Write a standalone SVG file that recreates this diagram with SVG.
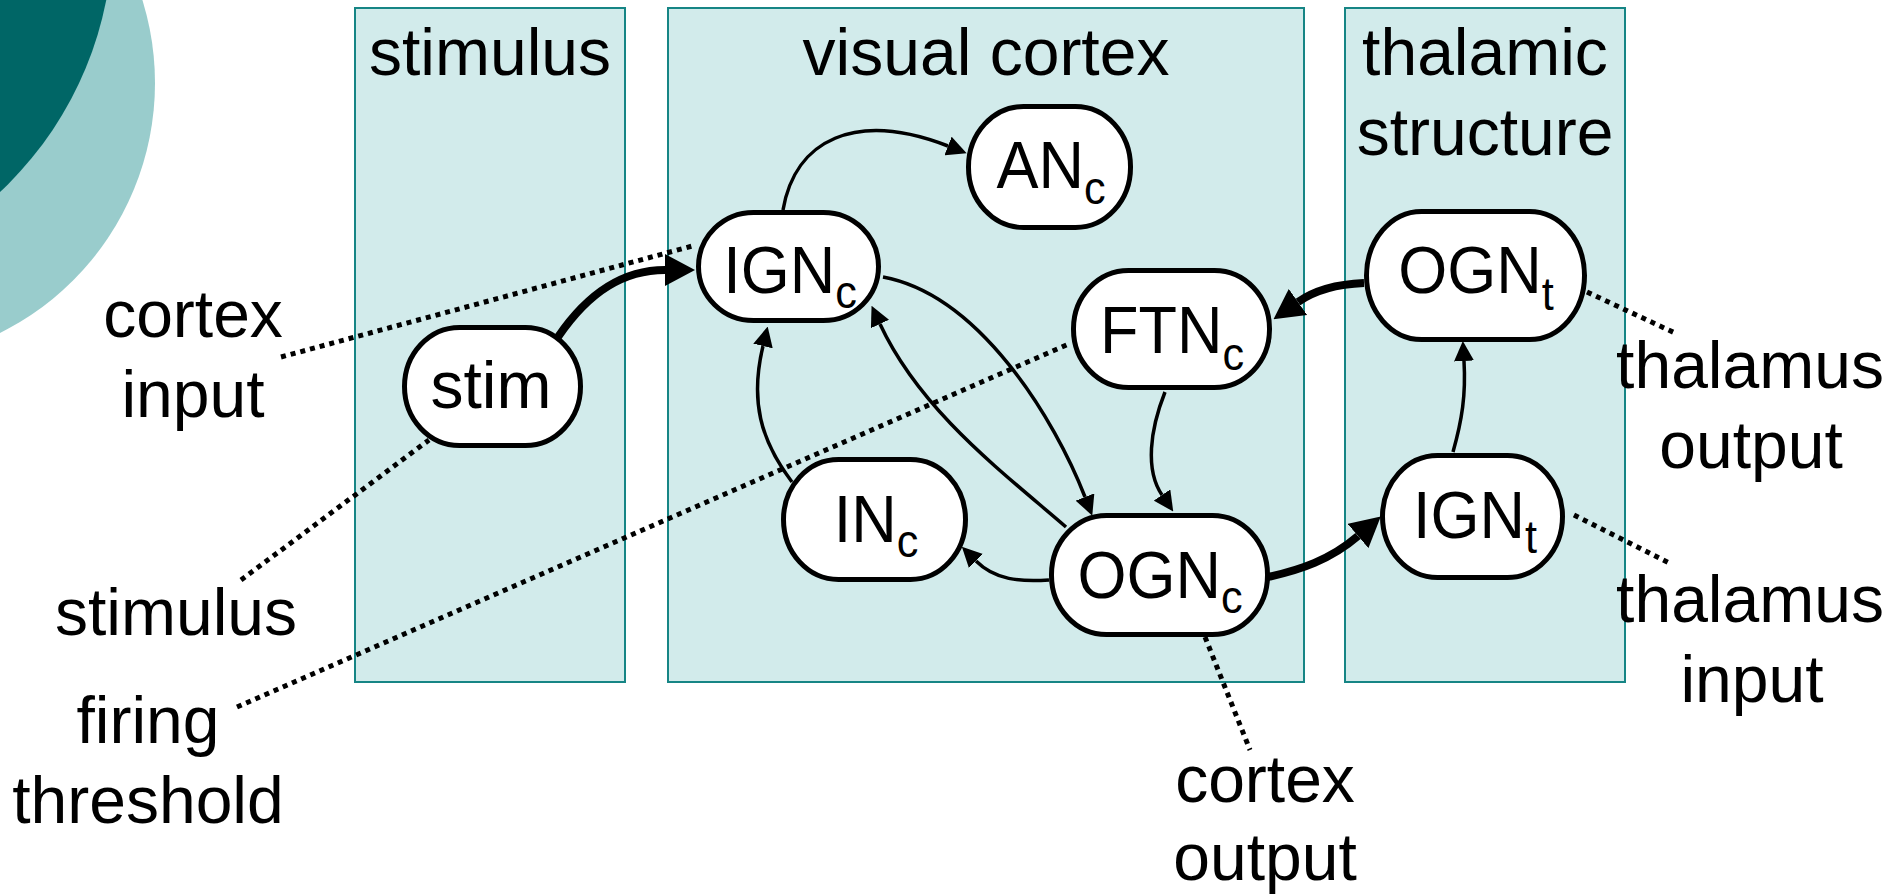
<svg xmlns="http://www.w3.org/2000/svg" width="1890" height="895" viewBox="0 0 1890 895">
<style>
.panel{fill:#D2EBEB;stroke:#168585;stroke-width:2}
.node rect{fill:#fff;stroke:#000;stroke-width:5}
text{font-family:"Liberation Sans",Arial,sans-serif;fill:#000}
.lbl{font-size:66px;text-anchor:middle}
.nt{font-size:67px;text-anchor:middle}
.sub{font-size:46px}
.thin{fill:none;stroke:#000;stroke-width:3.5;marker-end:url(#ah)}
.thick{fill:none;stroke:#000;stroke-width:8;marker-end:url(#ahb)}
.dot{fill:none;stroke:#000;stroke-width:5;stroke-dasharray:5 5}
</style>
<defs>
<marker id="ah" markerUnits="userSpaceOnUse" viewBox="0 0 20 20" refX="0" refY="10" markerWidth="20" markerHeight="20" orient="auto"><path d="M0,0 L20,10 L0,20 z" fill="#000"/></marker>
<marker id="ahb" markerUnits="userSpaceOnUse" viewBox="0 0 30 32" refX="0" refY="16" markerWidth="30" markerHeight="32" orient="auto"><path d="M0,0 L30,16 L0,32 z" fill="#000"/></marker>
</defs>
<rect width="1890" height="895" fill="#fff"/>
<g id="decor">
<circle cx="-124" cy="83" r="279" fill="#99CCCC"/>
<circle cx="-245" cy="-69" r="358" fill="#006666"/>
</g>
<g id="panels">
<g id="panel-stimulus"><rect class="panel" x="355" y="8" width="270" height="674"/><text class="lbl" x="490" y="75">stimulus</text></g>
<g id="panel-cortex"><rect class="panel" x="668" y="8" width="636" height="674"/><text class="lbl" x="986" y="75">visual cortex</text></g>
<g id="panel-thalamic"><rect class="panel" x="1345" y="8" width="280" height="674"/><text class="lbl" x="1485" y="75">thalamic</text><text class="lbl" x="1485" y="155">structure</text></g>
</g>
<g id="labels">
<text class="lbl" x="193" y="337">cortex</text><text class="lbl" x="193" y="417">input</text>
<text class="lbl" x="176" y="635">stimulus</text>
<text class="lbl" x="148" y="743">firing</text><text class="lbl" x="148" y="823">threshold</text>
<text class="lbl" x="1265" y="802">cortex</text><text class="lbl" x="1265" y="880">output</text>
<text class="lbl" x="1750" y="388">thalamus</text><text class="lbl" x="1751" y="468">output</text>
<text class="lbl" x="1750" y="622">thalamus</text><text class="lbl" x="1752" y="702">input</text>
</g>
<g id="connectors">
<line class="dot" x1="281" y1="357" x2="696" y2="245"/>
<line class="dot" x1="241" y1="580" x2="429" y2="440"/>
<line class="dot" x1="237" y1="707" x2="1071" y2="343"/>
<line class="dot" x1="1205" y1="637" x2="1250" y2="750"/>
<line class="dot" x1="1587" y1="292" x2="1675" y2="333"/>
<line class="dot" x1="1574" y1="515" x2="1669" y2="563"/>
<path class="thick" d="M558,337 C590,290 625,270 665,270"/>
<path class="thin" d="M783,210 C795,140 855,110 948,146"/>
<path class="thin" d="M883,277 C980,295 1055,420 1085,497"/>
<path class="thin" d="M1066,527 C1000,470 920,410 880,324"/>
<path class="thin" d="M792,482 C760,440 750,400 763,346"/>
<path class="thin" d="M1165,392 C1150,430 1145,470 1162,495"/>
<path class="thin" d="M1049,580 C1020,582 995,580 976,561"/>
<path class="thick" d="M1268,577 C1300,570 1330,560 1358,536"/>
<path class="thin" d="M1453,452 C1462,420 1466,395 1464,361"/>
<path class="thick" d="M1364,283 C1340,284 1315,290 1298,302"/>
</g>
<g id="node-stim" class="node"><rect x="404.5" y="327.5" width="176" height="118" rx="55" ry="59"/><text class="lbl" x="491" y="408">stim</text></g>
<g id="node-IGNc" class="node"><rect x="698.5" y="212.5" width="180" height="108" rx="55" ry="54"/><text class="nt" transform="translate(790,0) scale(0.94,1)" x="0" y="293">IGN<tspan class="sub" dy="15">c</tspan></text></g>
<g id="node-ANc" class="node"><rect x="968.5" y="106.5" width="162" height="121" rx="55" ry="60"/><text class="nt" transform="translate(1051,0) scale(0.94,1)" x="0" y="188">AN<tspan class="sub" dy="16">c</tspan></text></g>
<g id="node-FTNc" class="node"><rect x="1073.5" y="270.5" width="196" height="117" rx="55" ry="58"/><text class="nt" transform="translate(1172,0) scale(0.94,1)" x="0" y="353">FTN<tspan class="sub" dy="17">c</tspan></text></g>
<g id="node-INc" class="node"><rect x="783.5" y="459.5" width="182" height="120" rx="55" ry="60"/><text class="nt" transform="translate(876,0) scale(0.94,1)" x="0" y="542">IN<tspan class="sub" dy="15">c</tspan></text></g>
<g id="node-OGNc" class="node"><rect x="1051.5" y="515.5" width="216" height="119" rx="55" ry="59"/><text class="nt" transform="translate(1160,0) scale(0.94,1)" x="0" y="598">OGN<tspan class="sub" dy="15">c</tspan></text></g>
<g id="node-OGNt" class="node"><rect x="1366.5" y="211.5" width="218" height="128" rx="55" ry="64"/><text class="nt" transform="translate(1476,0) scale(0.94,1)" x="0" y="293">OGN<tspan class="sub" dy="17">t</tspan></text></g>
<g id="node-IGNt" class="node"><rect x="1382.5" y="455.5" width="180" height="122" rx="55" ry="61"/><text class="nt" transform="translate(1475,0) scale(0.94,1)" x="0" y="538">IGN<tspan class="sub" dy="15">t</tspan></text></g>
</svg>
